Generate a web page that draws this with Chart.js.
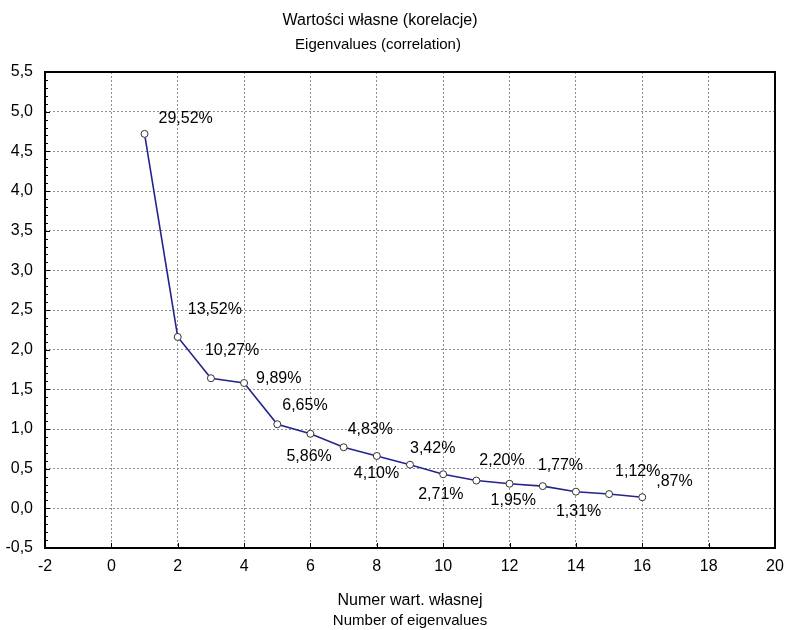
<!DOCTYPE html>
<html>
<head>
<meta charset="utf-8">
<script src="https://cdn.jsdelivr.net/npm/chart.js@4/dist/chart.umd.min.js"></script>
<style>
    html, body { margin: 0; padding: 0; background: #fff; }
</style>
</head>
<body>
<canvas id="myChart" width="789" height="630"></canvas>
<script>
// eigenvalue number, eigenvalue, % of variance
const numery = [1, 2, 3, 4, 5, 6, 7, 8, 9, 10, 11, 12, 13, 14, 15, 16]
const wartosci = [4.72, 2.16, 1.64, 1.58, 1.06, 0.94, 0.77, 0.66, 0.55, 0.43, 0.35, 0.31, 0.28, 0.21, 0.18, 0.14]
const procenty = ['29,52%', '13,52%', '10,27%', '9,89%', '6,65%', '5,86%', '4,83%', '4,10%',
    '3,42%', '2,71%', '2,20%', '1,95%', '1,77%', '1,31%', '1,12%', ',87%']

const tytul = ['Wartości własne (korelacje)', 'Eigenvalues (correlation)']
const tytulX = ['Numer wart. własnej', 'Number of eigenvalues']

// where each % label sits relative to its point (px)
const przesuniecia = [[14, -15], [10, -27], [-6, -28], [12, -4], [5, -19], [-24, 23], [4, -18], [-23, 18],
    [0, -16], [-25, 20], [3, -20], [-19, 17], [-5, -21], [-20, 20], [6, -22], [14, -16]]

const FONT = "'Liberation Sans', Arial, sans-serif"

const etykiety = {
    id: 'etykiety',
    afterDatasetsDraw(chart) {
        const ctx = chart.ctx
        const meta = chart.getDatasetMeta(0)
        ctx.save()
        ctx.font = '16px ' + FONT
        ctx.fillStyle = '#000'
        ctx.textAlign = 'left'
        ctx.textBaseline = 'middle'
        meta.data.forEach((pt, i) => {
            ctx.fillText(procenty[i], pt.x + przesuniecia[i][0], pt.y + przesuniecia[i][1])
        })
        ctx.restore()
    }
}

// titles, black frame + inward tick marks
const ramka = {
    id: 'ramka',
    afterDraw(chart) {
        const ctx = chart.ctx
        const a = chart.chartArea
        const xs = chart.scales.x
        const ys = chart.scales.y
        ctx.save()
        ctx.fillStyle = '#000'
        ctx.textAlign = 'center'
        ctx.textBaseline = 'middle'
        ctx.font = '16px ' + FONT
        ctx.fillText(tytul[0], 380, 21)
        ctx.font = '15px ' + FONT
        ctx.fillText(tytul[1], 378, 45)
        const srodek = (a.left + a.right) / 2
        ctx.font = '16px ' + FONT
        ctx.fillText(tytulX[0], srodek, 601)
        ctx.font = '15px ' + FONT
        ctx.fillText(tytulX[1], srodek, 621)

        ctx.strokeStyle = '#000'
        ctx.lineWidth = 1
        for (let v = -2; v <= 20; v += 2) {
            const px = Math.round(xs.getPixelForValue(v)) + 0.5
            ctx.beginPath()
            ctx.moveTo(px, a.bottom)
            ctx.lineTo(px, a.bottom - 5)
            ctx.stroke()
        }
        for (let k = -5; k <= 55; k++) {
            const py = Math.round(ys.getPixelForValue(k / 10)) + 0.5
            const len = k % 5 === 0 ? 5 : 3
            ctx.beginPath()
            ctx.moveTo(a.left, py)
            ctx.lineTo(a.left + len, py)
            ctx.stroke()
        }
        ctx.lineWidth = 2
        ctx.strokeRect(a.left, a.top, a.right - a.left, a.bottom - a.top)
        ctx.restore()
    }
}

const ctx = document.getElementById('myChart').getContext('2d')
const myChart = new Chart(ctx, {
    type: 'line',
    data: {
        datasets: [{
            data: numery.map((n, i) => ({ x: n, y: wartosci[i] })),
            borderColor: '#24248c',
            borderWidth: 1.6,
            pointRadius: 3.5,
            pointBackgroundColor: '#fff',
            pointBorderColor: '#333',
            pointBorderWidth: 1,
            tension: 0
        }]
    },
    options: {
        responsive: false,
        animation: false,
        layout: {
            padding: { top: 72, right: 14, bottom: 0, left: 0 }
        },
        scales: {
            x: {
                type: 'linear',
                min: -2,
                max: 20,
                afterFit: s => {
                    s.height = 82
                    s.paddingLeft = 0
                    s.paddingRight = 0
                },
                ticks: {
                    stepSize: 2,
                    padding: 9,
                    color: '#000',
                    font: { family: FONT, size: 16 }
                },
                grid: { color: '#8c8c8c', lineWidth: 1, drawTicks: false },
                border: { display: false, dash: [2, 2] }
            },
            y: {
                min: -0.5,
                max: 5.5,
                afterFit: s => { s.width = 45 },
                ticks: {
                    stepSize: 0.5,
                    padding: 12,
                    color: '#000',
                    font: { family: FONT, size: 16 },
                    callback: v => v.toFixed(1).replace('.', ',')
                },
                grid: { color: '#8c8c8c', lineWidth: 1, drawTicks: false },
                border: { display: false, dash: [2, 2] }
            }
        },
        plugins: {
            legend: { display: false },
            tooltip: { enabled: false }
        }
    },
    plugins: [etykiety, ramka]
})
</script>
</body>
</html>
